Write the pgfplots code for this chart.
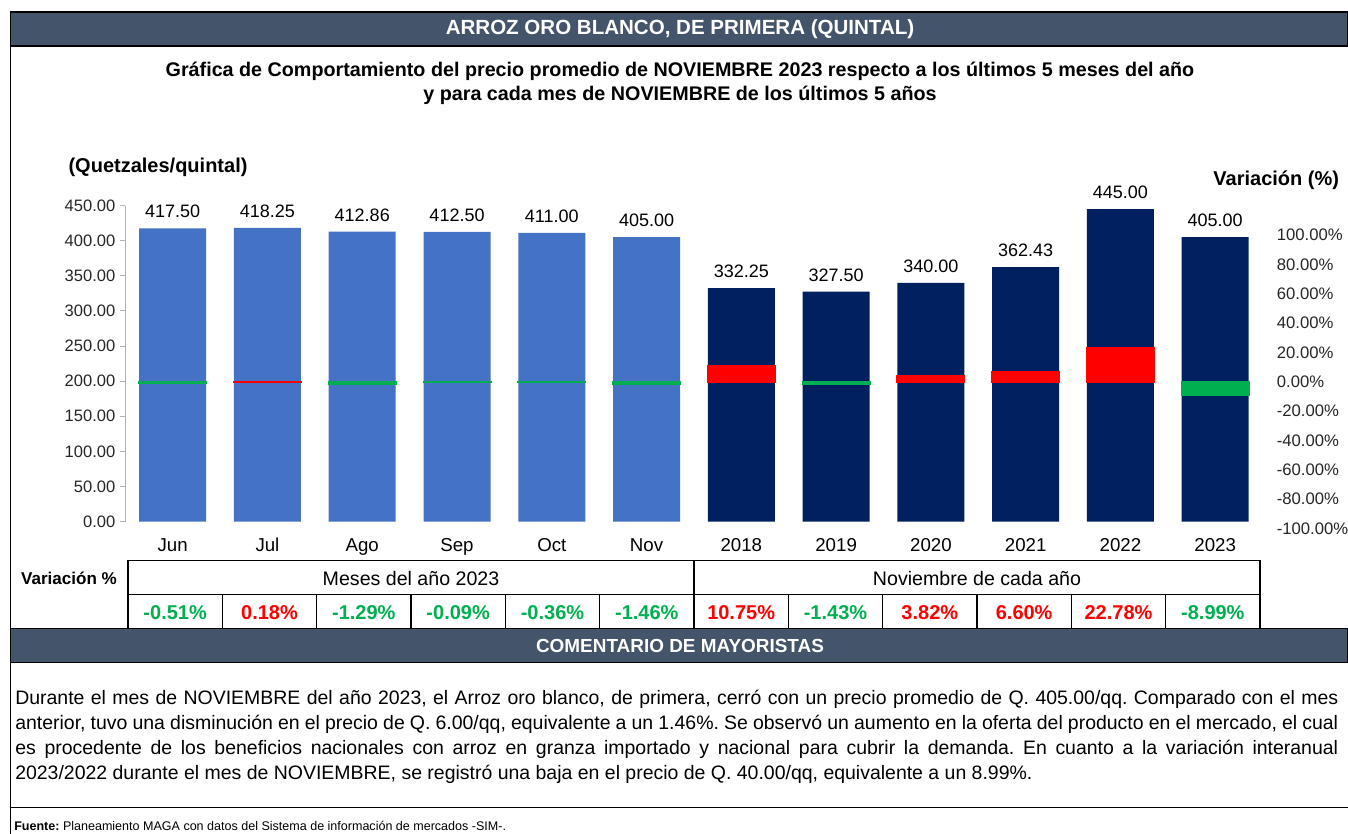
\documentclass[border=0pt]{standalone}
\usepackage{pgfplots}
\pgfplotsset{compat=1.18}
\usepackage{fontspec}
\setmainfont{Liberation Sans}
\definecolor{barra}{HTML}{44546A}
\definecolor{mes}{HTML}{4472C4}
\definecolor{anio}{HTML}{002060}
\definecolor{sube}{HTML}{FF0000}
\definecolor{baja}{HTML}{00B050}
\definecolor{txt}{HTML}{262626}
\frenchspacing
\begin{document}
\begin{tikzpicture}[x=0.75pt,y=0.75pt]
\path[use as bounding box] (0,0) rectangle (1348,-834);
\coordinate (ejeP) at (125.3,-521.7);
\coordinate (ejeV) at (125.3,-528.5);

% encabezado
\draw[fill=barra, line width=1pt] (10.3,-12) rectangle (1348,-46);
\node[white, font=\bfseries\fontsize{15.4}{18}\selectfont] at (680,-29.5) {ARROZ ORO BLANCO, DE PRIMERA (QUINTAL)};
\draw[line width=1pt] (10.3,-46) -- (10.3,-834);

\node[anchor=base, font=\bfseries\fontsize{14.8}{17}\selectfont] at (680,-76.7) {Gráfica de Comportamiento del precio promedio de NOVIEMBRE 2023 respecto a los últimos 5 meses del año};
\node[anchor=base, font=\bfseries\fontsize{14.8}{17}\selectfont] at (680,-101) {y para cada mes de NOVIEMBRE de los últimos 5 años};
\node[anchor=base west, inner sep=0pt, font=\bfseries\fontsize{15}{17}\selectfont] at (68.3,-173) {(Quetzales/quintal)};
\node[anchor=base east, inner sep=0pt, font=\bfseries\fontsize{15}{17}\selectfont] at (1339.3,-186) {Variación (\%)};

% precios
\begin{axis}[
    at={(ejeP)}, anchor=south west,
    scale only axis, width=852.98pt, height=237.15pt,
    xmin=-0.5, xmax=11.5, ymin=0, ymax=450,
    axis x line*=bottom, axis y line*=left,
    x axis line style={draw=none},
    y axis line style={draw=gray!60, line width=0.8pt},
    xtick={0,...,11},
    xticklabels={Jun,Jul,Ago,Sep,Oct,Nov,2018,2019,2020,2021,2022,2023},
    xtick style={draw=none},
    ytick={0,50,...,450},
    ytick style={draw=gray!60, line width=0.8pt},
    tick align=outside, major tick length=4pt,
    /pgf/number format/assume math mode=true,
    yticklabel style={font=\fontsize{12.4}{14}\selectfont, text=txt,
        /pgf/number format/.cd, fixed, fixed zerofill, precision=2},
    xticklabel style={font=\fontsize{14}{16}\selectfont, text=black, anchor=north,
        inner sep=0pt, text height=10pt, text depth=3pt, yshift=-8pt},
    ybar, bar width=0.707,
    nodes near coords={\pgfmathprintnumber[fixed,fixed zerofill,precision=2]{\pgfplotspointmeta}},
    every node near coord/.append style={font=\fontsize{13.5}{16}\selectfont, text=black, inner sep=0pt, anchor=south, yshift=7.5pt},
]
\addplot[fill=mes, draw=none, bar shift=0pt] coordinates {
    (0,417.50) (1,418.25) (2,412.86) (3,412.50) (4,411.00) (5,405.00)
};
\addplot[fill=anio, draw=none, bar shift=0pt] coordinates {
    (6,332.25) (7,327.50) (8,340.00) (9,362.43) (10,445.00) (11,405.00)
};
\end{axis}

% variaciones
\begin{axis}[
    at={(ejeV)}, anchor=south west,
    scale only axis, width=852.98pt, height=220.1pt,
    xmin=-0.5, xmax=11.5, ymin=-100, ymax=100,
    axis x line=none, axis y line*=right,
    y axis line style={draw=none},
    ytick={-100,-80,...,100}, major tick length=0pt,
    /pgf/number format/assume math mode=true,
    yticklabel={\pgfmathprintnumber[fixed,fixed zerofill,precision=2]{\tick}\%},
    yticklabel style={font=\fontsize{12.5}{15}\selectfont, text=txt, anchor=west, inner sep=0pt, xshift=10.5pt},
    ybar, bar width=0.707,
]
\addplot[fill=sube, draw=sube, line width=1.5pt, bar shift=0pt] coordinates {
    (1,0.18) (6,10.75) (8,3.82) (9,6.60) (10,22.78)
};
\addplot[fill=baja, draw=baja, line width=1.5pt, bar shift=0pt] coordinates {
    (0,-0.51) (2,-1.29) (3,-0.09) (4,-0.36) (5,-1.46) (7,-1.43) (11,-8.99)
};
\end{axis}

% tabla de variaciones
\node[font=\bfseries\fontsize{12.8}{14}\selectfont] at (69,-578.3) {Variación \%};
\draw[line width=1.1pt] (128,-560.7) rectangle (1260,-628.3);
\draw[line width=1.1pt] (128,-594.7) -- (1260,-594.7);
\draw[line width=1.1pt] (694,-560.7) -- (694,-628.3);
\foreach \k in {1,...,11} {
  \draw[line width=1.1pt] ({128+94.333*\k},-594.7) -- ({128+94.333*\k},-628.3);
}
\node[font=\fontsize{14.7}{16}\selectfont] at (411,-578) {Meses del año 2023};
\node[font=\fontsize{14.7}{16}\selectfont] at (977,-578) {Noviembre de cada año};
\foreach \v/\c [count=\k from 0] in {-0.51\%/baja,0.18\%/sube,-1.29\%/baja,-0.09\%/baja,-0.36\%/baja,-1.46\%/baja,10.75\%/sube,-1.43\%/baja,3.82\%/sube,6.60\%/sube,22.78\%/sube,-8.99\%/baja} {
  \node[text=\c, font=\bfseries\fontsize{15}{16}\selectfont] at ({128+94.333*(\k+0.5)},-612.3) {\v};
}

% comentario
\draw[fill=barra, line width=1pt] (10.3,-628.3) rectangle (1348,-662.7);
\node[white, font=\bfseries\fontsize{14.2}{16}\selectfont] at (680,-645.5) {COMENTARIO DE MAYORISTAS};
\node[anchor=north west, inner sep=0pt, text width=992.25pt, align=justify, font=\fontsize{14.6}{18.6}\selectfont] at (15,-690) {Durante el mes de NOVIEMBRE del año 2023, el Arroz oro blanco, de primera, cerró con un precio promedio de Q. 405.00/qq. Comparado con el mes\linebreak anterior, tuvo una disminución en el precio de Q. 6.00/qq, equivalente a un 1.46\%. Se observó un aumento en la oferta del producto en el mercado, el cual\linebreak es procedente de los beneficios nacionales con arroz en granza importado y nacional para cubrir la demanda. En cuanto a la variación interanual\linebreak 2023/2022 durante el mes de NOVIEMBRE, se registró una baja en el precio de Q. 40.00/qq, equivalente a un 8.99\%.};
\draw[line width=1pt] (10.3,-807.3) -- (1348,-807.3);
\node[anchor=west, inner sep=0pt, font=\fontsize{9.4}{11}\selectfont] at (14,-826) {\textbf{Fuente:} Planeamiento MAGA con datos del Sistema de información de mercados -SIM-.};
\end{tikzpicture}
\end{document}
